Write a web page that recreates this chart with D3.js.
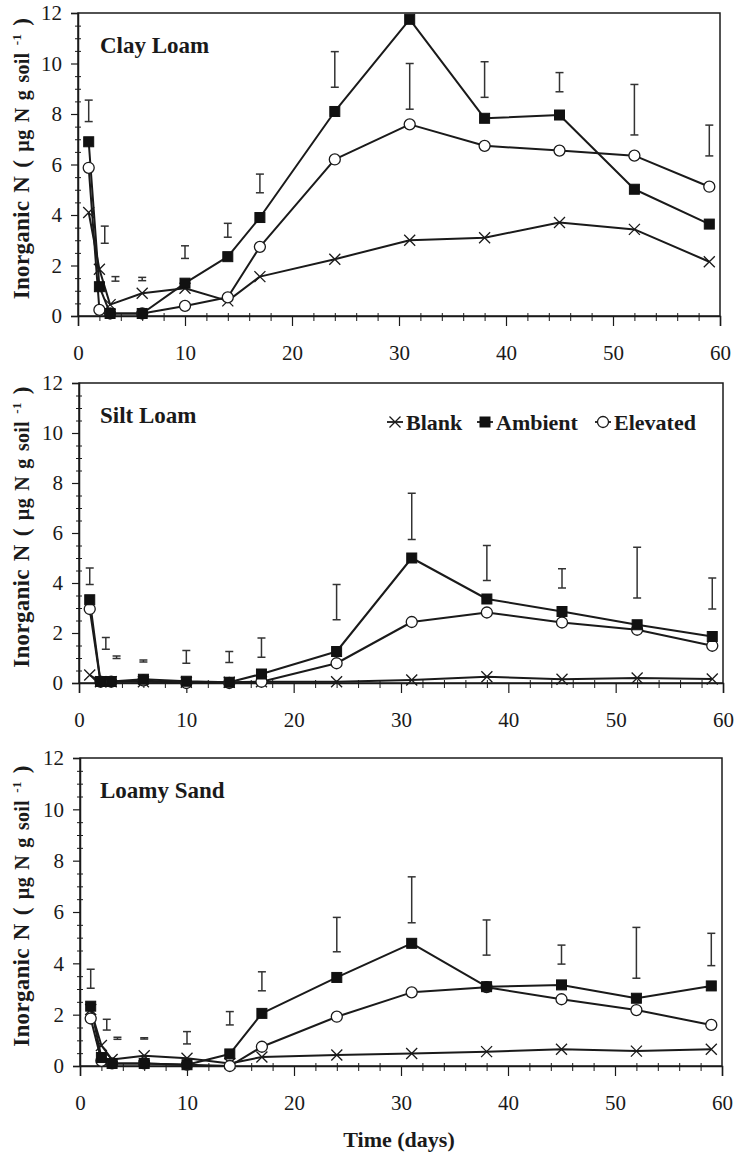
<!DOCTYPE html>
<html>
<head>
<meta charset="utf-8">
<script src="https://cdn.jsdelivr.net/npm/d3@7"></script>
<style>
  body { margin: 0; background: #fff; }
  text { font-family: "Liberation Serif", "Times New Roman", serif; fill: #1a1a1a; }
</style>
</head>
<body>
<svg id="chart" width="741" height="1155"></svg>
<script>
// Sampling days (days after incubation start)
const days    = [1, 2, 3, 6, 10, 14, 17, 24, 31, 38, 45, 52, 59];
// Error bars sit slightly right of crowded early points
const errDays = [1, 2.5, 3.5, 6, 10, 14, 17, 24, 31, 38, 45, 52, 59];

const seriesNames = ["Blank", "Ambient", "Elevated"];
const xTicks = [0, 10, 20, 30, 40, 50, 60];
const yTicks = [0, 2, 4, 6, 8, 10, 12];

// Clay Loam, inorganic N (µg N g soil-1)
const clayBlank    = [4.1, 1.85, 0.45, 0.9, 1.1, 0.6, 1.56, 2.25, 3.0, 3.1, 3.7, 3.43, 2.15];
const clayAmbient  = [6.9, 1.16, 0.1, 0.1, 1.3, 2.35, 3.9, 8.1, 11.75, 7.83, 7.96, 5.02, 3.64];
const clayElevated = [5.87, 0.24, 0.1, 0.1, 0.4, 0.74, 2.74, 6.2, 7.59, 6.74, 6.55, 6.35, 5.12];
const clayErrLow   = [7.7, 2.88, 1.38, 1.4, 2.28, 3.12, 4.88, 9.06, 8.19, 8.66, 8.88, 7.17, 6.34];
const clayErrHigh  = [8.55, 3.56, 1.56, 1.53, 2.78, 3.67, 5.62, 10.47, 10.0, 10.07, 9.64, 9.17, 7.56];

// Silt Loam
const siltBlank    = [0.32, 0.05, 0.05, 0.05, 0.03, 0.03, 0.05, 0.05, 0.12, 0.25, 0.15, 0.2, 0.16];
const siltAmbient  = [3.33, 0.06, 0.06, 0.15, 0.07, 0.03, 0.36, 1.26, 5.0, 3.36, 2.86, 2.33, 1.86];
const siltElevated = [2.96, 0.05, 0.05, 0.1, 0.0, 0.0, 0.05, 0.79, 2.44, 2.82, 2.42, 2.13, 1.49];
const siltErrLow   = [3.94, 1.35, 0.98, 0.84, 0.79, 0.82, 1.03, 2.53, 5.74, 4.1, 3.8, 3.4, 2.96];
const siltErrHigh  = [4.6, 1.82, 1.08, 0.92, 1.3, 1.26, 1.8, 3.94, 7.59, 5.5, 4.57, 5.43, 4.2];

// Loamy Sand
const sandBlank    = [2.2, 0.8, 0.25, 0.4, 0.3, 0.1, 0.35, 0.43, 0.49, 0.56, 0.65, 0.58, 0.65];
const sandAmbient  = [2.33, 0.33, 0.1, 0.1, 0.05, 0.47, 2.05, 3.45, 4.78, 3.09, 3.16, 2.64, 3.12];
const sandElevated = [1.85, 0.2, 0.1, 0.1, 0.05, 0.0, 0.75, 1.92, 2.87, 3.07, 2.6, 2.18, 1.6];
const sandErrLow   = [3.03, 1.4, 1.04, 1.05, 0.86, 1.6, 2.93, 4.45, 5.58, 4.32, 3.97, 3.42, 3.91];
const sandErrHigh  = [3.77, 1.82, 1.12, 1.1, 1.34, 2.12, 3.67, 5.79, 7.37, 5.69, 4.71, 5.4, 5.17];

const soils = [
  { title: "Clay Loam",  blank: clayBlank, ambient: clayAmbient, elevated: clayElevated, lo: clayErrLow, hi: clayErrHigh },
  { title: "Silt Loam",  blank: siltBlank, ambient: siltAmbient, elevated: siltElevated, lo: siltErrLow, hi: siltErrHigh },
  { title: "Loamy Sand", blank: sandBlank, ambient: sandAmbient, elevated: sandElevated, lo: sandErrLow, hi: sandErrHigh }
];

// Frame of each panel on the page
const frames = [
  { left: 78, right: 720, top: 13,  bottom: 316 },
  { left: 79, right: 723, top: 383, bottom: 683 },
  { left: 80, right: 722, top: 758, bottom: 1066 }
];

const ink = "#1a1a1a";
const svg = d3.select("#chart");

function marker(g, kind) {
  if (kind === "Blank") {
    g.append("path").attr("d", "M-5.5,-5.5L5.5,5.5M-5.5,5.5L5.5,-5.5")
      .attr("stroke", ink).attr("stroke-width", 1.3).attr("fill", "none");
  } else if (kind === "Ambient") {
    g.append("rect").attr("x", -5).attr("y", -5).attr("width", 10).attr("height", 10)
      .attr("fill", "#111").attr("stroke", "#111").attr("stroke-width", 1);
  } else {
    g.append("circle").attr("r", 5.5).attr("fill", "#fff")
      .attr("stroke", ink).attr("stroke-width", 1.3);
  }
}

soils.forEach((soil, i) => {
  const f = frames[i];
  const x = d3.scaleLinear().domain([0, 60]).range([f.left, f.right]);
  const y = d3.scaleLinear().domain([0, 12]).range([f.bottom, f.top]);
  const g = svg.append("g");

  // Frame
  g.append("rect").attr("x", f.left).attr("y", f.top)
    .attr("width", f.right - f.left).attr("height", f.bottom - f.top)
    .attr("fill", "none").attr("stroke", ink).attr("stroke-width", 1.5);

  // Y axis: labelled majors and crossing minor ticks
  const minorY = d3.range(0, 12.01, 0.5).filter(v => v % 2 !== 0);
  g.append("g").attr("transform", `translate(${f.left},0)`)
    .call(d3.axisLeft(y).tickValues(minorY).tickSize(3).tickFormat(""))
    .call(a => a.select(".domain").remove())
    .call(a => a.selectAll(".tick line").attr("x2", -3).attr("x1", 3).attr("stroke", ink));
  g.append("g").attr("transform", `translate(${f.left},0)`)
    .call(d3.axisLeft(y).tickValues(yTicks).tickSize(7).tickPadding(9).tickFormat(d3.format("d")))
    .call(a => a.select(".domain").attr("stroke", ink).attr("stroke-width", 1.5))
    .call(a => a.selectAll(".tick line").attr("stroke", ink).attr("stroke-width", 1.2))
    .call(a => a.selectAll(".tick text").attr("font-size", 21).attr("fill", "#333")
      .style("font-family", '"Liberation Serif", serif'));

  // X axis: majors every 10 days, minor ticks every 2 days
  const minorX = d3.range(0, 60.01, 2).filter(v => v % 10 !== 0);
  g.append("g").attr("transform", `translate(0,${f.bottom})`)
    .call(d3.axisBottom(x).tickValues(minorX).tickSize(5).tickFormat(""))
    .call(a => a.select(".domain").remove())
    .call(a => a.selectAll(".tick line").attr("y1", -3).attr("y2", 5).attr("stroke", ink));
  g.append("g").attr("transform", `translate(0,${f.bottom})`)
    .call(d3.axisBottom(x).tickValues(xTicks).tickSize(10).tickFormat(d3.format("d")))
    .call(a => a.select(".domain").attr("stroke", ink).attr("stroke-width", 1.5))
    .call(a => a.selectAll(".tick line").attr("stroke", ink).attr("stroke-width", 1.2))
    .call(a => a.selectAll(".tick text").attr("font-size", 21).attr("fill", "#333")
      .attr("y", 37).attr("dy", "0.35em")
      .style("font-family", '"Liberation Serif", serif'));

  // Y title
  const yt = g.append("text")
    .attr("transform", `translate(29,${(f.top + f.bottom) / 2 - 6}) rotate(-90)`)
    .attr("text-anchor", "middle").attr("font-weight", "bold").attr("font-size", 23)
    .style("letter-spacing", "0.3px").style("word-spacing", "2px");
  yt.append("tspan").text("Inorganic N ( ");
  yt.append("tspan").attr("font-size", 20).text("µg N g soil ");
  yt.append("tspan").attr("font-size", 13).attr("dy", -8).text("-1");
  yt.append("tspan").attr("dy", 8).text(" )");

  // Panel title
  g.append("text").attr("x", 100).attr("y", f.top + 40)
    .attr("font-weight", "bold").attr("font-size", 23).text(soil.title);

  // Error bars
  const cap = 4;
  const eb = g.append("g").attr("stroke", "#333").attr("stroke-width", 1.5);
  errDays.forEach((d, k) => {
    const cx = x(d), y1 = y(soil.lo[k]), y2 = y(soil.hi[k]);
    eb.append("line").attr("x1", cx).attr("x2", cx).attr("y1", y1).attr("y2", y2);
    eb.append("line").attr("x1", cx - cap).attr("x2", cx + cap).attr("y1", y1).attr("y2", y1);
    eb.append("line").attr("x1", cx - cap).attr("x2", cx + cap).attr("y1", y2).attr("y2", y2);
  });

  // Series lines and markers
  const line = d3.line().x(d => x(d[0])).y(d => y(d[1]));
  const order = [["Blank", soil.blank], ["Elevated", soil.elevated], ["Ambient", soil.ambient]];
  order.forEach(([name, vals]) => {
    const pts = days.map((d, k) => [d, vals[k]]);
    g.append("path").datum(pts).attr("d", line)
      .attr("fill", "none").attr("stroke", ink).attr("stroke-width", 2)
      .attr("stroke-linejoin", "round");
  });
  order.forEach(([name, vals]) => {
    days.forEach((d, k) => {
      const m = g.append("g").attr("transform", `translate(${x(d)},${y(vals[k])})`);
      marker(m, name);
    });
  });

  // Legend in the middle panel
  if (i === 1) {
    const legendX = [395, 485, 603];
    const ly = f.top + 39;
    seriesNames.forEach((name, k) => {
      const lg = g.append("g").attr("transform", `translate(${legendX[k]},${ly})`);
      lg.append("line").attr("x1", -8).attr("x2", 8).attr("stroke", ink).attr("stroke-width", 1.8);
      marker(lg, name);
      lg.append("text").attr("x", 11).attr("dy", "0.35em")
        .attr("font-weight", "bold").attr("font-size", 22).text(name);
    });
  }
});

// X title
svg.append("text").attr("x", 399).attr("y", 1147)
  .attr("text-anchor", "middle").attr("font-weight", "bold").attr("font-size", 22)
  .text("Time (days)");
</script>
</body>
</html>
